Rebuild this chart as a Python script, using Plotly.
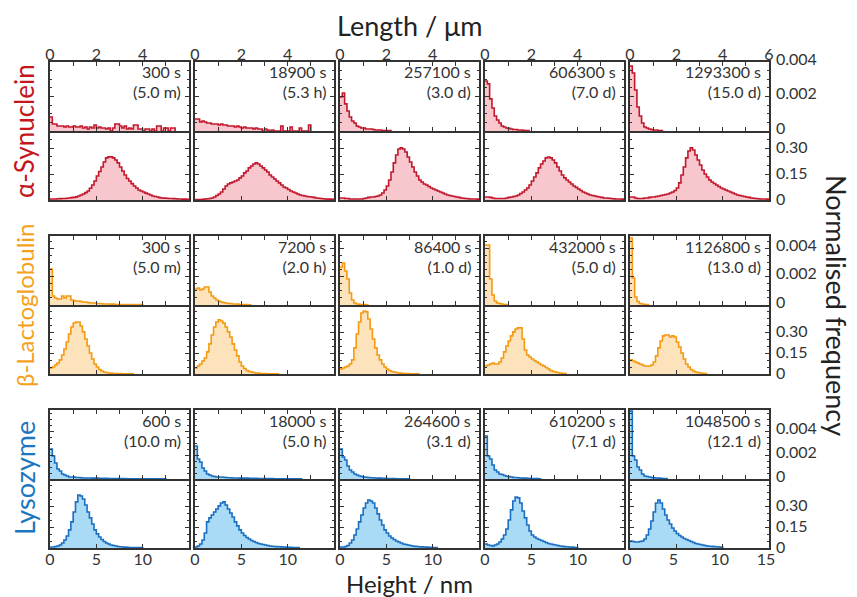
import numpy as np
import plotly.graph_objects as go

# ---------------- data ----------------
LEN_BIN = 0.1    # μm, length-histogram bin width
HGT_BIN = 0.25   # nm, height-histogram bin width
LEN_UNIT = 1e-5  # length-histogram values are given in units of 1e-5
HGT_UNIT = 1e-3  # height-histogram values are given in units of 1e-3

proteins = ["α-Synuclein", "β-Lactoglobulin", "Lysozyme"]

times_s = [
    ["300 s", "18900 s", "257100 s", "606300 s", "1293300 s"],
    ["300 s", "7200 s", "86400 s", "432000 s", "1126800 s"],
    ["600 s", "18000 s", "264600 s", "610200 s", "1048500 s"],
]
times_h = [
    ["(5.0 m)", "(5.3 h)", "(3.0 d)", "(7.0 d)", "(15.0 d)"],
    ["(5.0 m)", "(2.0 h)", "(1.0 d)", "(5.0 d)", "(13.0 d)"],
    ["(10.0 m)", "(5.0 h)", "(3.1 d)", "(7.1 d)", "(12.1 d)"],
]

asyn_len = [
    [81,41,41,29,29,29,23,29,23,23, 29,23,23,29,17,23,12,23,17,35, 17,23,17,17,12,17,0,17,41,41,
     29,17,29,12,17,12,35,35,12,12, 0,12,12,0,12,0,29,29,0,17, 17,0,17,17],
    [70,70,52,58,52,46,46,41,41,41, 35,41,35,35,29,29,29,23,29,23, 17,23,17,17,17,12,17,12,12,0,
     12,6,0,6,0,0,0,29,0,0, 0,23,0,0,0,17,0,0,0,35],
    [197,220,157,116,81,58,46,29,23,17, 17,12,12,12,9,6,6,6,3,3,3,2],
    [290,273,186,133,87,64,46,29,23,17, 15,12,9,9,6,6,4,3,2],
    [377,336,238,139,87,46,23,17,12,9,6,6,3,3],
]
asyn_hgt = [
    [6,6,6,7,8,9,9,10,12,14, 15,18,23,29,35,43,52,68,87,110, 139,165,191,220,244,250,250,244,232,215,
     191,168,145,125,110,95,81,70,58,52, 46,40,35,29,23,20,17,14,12,11, 10,9,9,8,7,6,6,5,5,4],
    [3,3,3,4,6,7,9,12,17,26, 35,46,64,81,93,99,104,110,116,128, 139,157,168,186,197,209,215,209,197,186,
     174,162,145,133,122,110,99,87,75,70, 61,52,46,41,35,29,26,23,20,19, 17,15,12,10,9,7,6,5,5,4],
    [12,12,9,9,6,6,6,6,6,6, 9,12,15,17,17,20,23,29,41,58, 81,116,162,215,261,296,302,296,278,249,
     220,191,162,139,116,104,93,87,78,70, 64,58,52,46,41,35,29,26,23,20, 17,15,12,10,9,7,6,6,6,5],
    [17,17,15,12,9,9,9,9,9,12, 15,17,20,23,29,38,46,58,70,87, 110,133,157,186,209,226,244,249,244,232,
     215,191,168,145,128,116,104,93,81,73, 64,55,46,41,35,29,26,23,20,17, 15,12,12,10,9,7,6,6,6,5],
    [17,17,12,9,9,9,12,12,15,17, 17,20,23,26,29,32,35,41,46,55, 70,99,145,191,244,284,302,290,261,232,
     203,174,151,133,116,104,96,87,78,70, 64,58,52,46,41,35,29,26,23,20, 17,15,12,10,9,7,6,6,6,5],
]

blg_len = [
    [256,64,50,43,43,64,50,64,64,36, 32,28,28,25,21,21,18,14,14,14, 11,11,9,7,7,7,6,6,4,4,
     4,0,4,4,0,4,3,0,3,3],
    [114,121,107,114,128,128,92,64,50,36, 28,21,18,14,11,11,7,7,6,4, 4,4,3,2],
    [270,298,241,185,85,36,14,7,5,4,3,2],
    [426,426,185,71,28,14,11,7,4,3],
    [476,192,57,25,11,7,4,3],
]
blg_hgt = [
    [43,51,65,80,102,138,181,232,290,341, 370,377,377,348,305,254,203,152,109,73,
     51,33,22,15,11,7,6,4,4,3, 3,2,2,2,2,1],
    [43,58,73,94,116,160,218,283,341,377, 392,384,370,341,305,268,218,174,131,87,
     58,40,25,18,15,11,7,6,4,3, 3,2,2,2,1,1],
    [36,43,51,58,73,102,189,290,377,442, 457,450,399,326,254,189,138,102,73,51,
     36,25,18,15,11,7,6,4,4,3, 2,2,1,1],
    [58,65,73,80,73,73,87,116,160,203, 239,276,305,326,334,334,254,174,138,123,
     109,98,87,76,65,58,47,36,25,18, 15,11,7,5,4],
    [102,94,87,80,73,65,58,58,58,65, 87,131,189,239,276,283,283,268,276,268,
     232,196,152,109,73,51,33,22,15,11, 7,5,4],
]

lys_len = [
    [250,192,133,83,67,42,33,25,17,17, 17,12,12,10,8,8,8,8,7,7, 7,6,6,5,5,4,4,4,4,3,
     3,3,3,2,2,2,2,2,2,2, 2,2,2,2,2,2,2,2,2,2],
    [275,167,142,92,67,42,33,25,21,17, 17,17,15,12,11,10,8,8,8,7, 7,7,7,6,6,5,5,4,4,4,
     3,3,3,3,2,2,2,2,2,2, 2,2,2,2,2,2],
    [250,183,158,108,75,58,42,33,25,21, 17,15,12,11,10,8,7,7,6,5, 4,4,3,3,2,2,2,2,2,2],
    [358,192,167,117,75,58,42,37,29,23, 21,17,13,12,10,8,7,7,6,5, 4,4,3,2],
    [566,192,158,100,75,42,25,21,17,12,10,8,7,5,4,3],
]
lys_hgt = [
    [7,7,11,15,22,36,58,87,131,189, 261,334,384,377,355,312,261,218,174,131,
     102,80,62,47,36,29,22,18,15,11, 9,7,6,5,4,4,4,3,3,3],
    [7,15,29,58,109,189,218,239,261,283, 305,326,334,312,283,254,225,189,160,131,
     109,91,76,65,54,47,40,33,29,25, 22,18,15,13,11,10,9,8,7,6, 5,5,4,4,3],
    [7,7,11,18,36,58,94,138,189,239, 290,326,348,341,326,290,247,203,167,131,
     109,87,73,62,51,43,36,29,25,22, 18,15,12,11,9,8,7,6,5,5,4,4],
    [29,22,18,15,22,29,44,65,94,138, 203,276,341,370,363,326,268,218,167,123,
     94,80,69,62,54,47,40,33,29,25, 22,18,15,12,10,9,7,6,5,4],
    [51,47,44,44,47,51,65,94,138,196, 261,326,348,326,283,239,203,174,145,123,
     105,91,80,69,62,54,47,40,33,29, 25,22,18,15,13,12,10,9,7,6],
]

length_hists = [asyn_len, blg_len, lys_len]
height_hists = [asyn_hgt, blg_hgt, lys_hgt]

len_range = [0, 6]
hgt_range = [0, 15]
len_yrange = [[0, 0.0040], [0, 0.0049], [0, 0.00575]]
hgt_yrange = [[0, 0.40], [0, 0.50], [0, 0.50]]

len_ticks = [0, 1, 2, 3, 4, 5, 6]
hgt_ticks = [0, 5, 10, 15]
len_yticks = [0, 0.002, 0.004]
len_yticktext = ["0", "0.002", "0.004"]
hgt_yticks = [0, 0.15, 0.30]
hgt_yticktext = ["0", "0.15", "0.30"]

# ---------------- style ----------------
line_colors = ["#c1182c", "#f39a12", "#1b6fc0"]
fill_colors = ["#f8c6cd", "#fde3bb", "#aadbf6"]
label_colors = ["#c4161c", "#f5a11c", "#1c76c0"]
label_sizes = [26, 24, 27]
FONT = "Lato, 'Noto Sans', sans-serif"
INK = "#333333"

PAGE_OFF = 8                 # default page margin around the plot div
W, H = 857 - PAGE_OFF, 597 - PAGE_OFF
COL_LEFT = [50, 195, 340, 485, 630]   # page pixels
COL_W = 139
BLOCK_TOP = [62, 236, 410]
SUB_H = 69


def fx(p):
    return (p - PAGE_OFF) / W


def fy(p):
    return 1 - (p - PAGE_OFF) / H


fig = go.Figure()
layout = {}
annotations = []

for p in range(3):
    for sub in range(2):
        r = p * 2 + sub
        for c in range(5):
            k = r * 5 + c + 1
            xname = "x" if k == 1 else f"x{k}"
            yname = "y" if k == 1 else f"y{k}"
            if sub == 0:
                vals = length_hists[p][c]
                bw, unit = LEN_BIN, LEN_UNIT
            else:
                vals = height_hists[p][c]
                bw, unit = HGT_BIN, HGT_UNIT
            yv = [v * unit for v in vals] + [0.0]
            xv = list(np.arange(len(vals) + 1) * bw)
            fig.add_trace(go.Scatter(
                x=xv, y=yv, mode="lines",
                line=dict(color=line_colors[p], width=1.6, shape="hv"),
                fill="tozeroy", fillcolor=fill_colors[p],
                xaxis=xname, yaxis=yname, showlegend=False, hoverinfo="skip"))

            top = BLOCK_TOP[p] + sub * SUB_H
            bot = top + SUB_H
            left = COL_LEFT[c]
            right = left + COL_W

            common = dict(showline=True, linecolor=INK, linewidth=1.5,
                          ticks="inside", tickcolor=INK, tickwidth=1, showgrid=False,
                          zeroline=False, fixedrange=True, automargin=False,
                          tickfont=dict(family=FONT, size=16, color=INK))
            if sub == 0:
                xt = dict(range=len_range, tickvals=len_ticks,
                          ticktext=["0", "", "2", "", "4", "", "6" if c == 4 else ""],
                          ticklen=4, showticklabels=(p == 0), side="top", mirror="ticks",
                          ticklabelstandoff=-6)
                yr = len_yrange[p]
                yt = dict(tickvals=len_yticks, ticktext=len_yticktext, ticklabelshift=-3,
                          minor=dict(ticks="inside", ticklen=2.5, dtick=0.0005,
                                     tickcolor=INK, showgrid=False))
            else:
                xt = dict(range=hgt_range, tickvals=hgt_ticks,
                          ticktext=["0", "5", "10", "15" if c == 4 else ""],
                          ticklen=4, showticklabels=(p == 2), side="bottom", mirror=False,
                          ticklabelstandoff=-4, ticklabelshift=(-3 if c == 4 else 0))
                yr = hgt_yrange[p]
                yt = dict(tickvals=hgt_yticks, ticktext=hgt_yticktext, ticklabelshift=-1,
                          minor=dict(ticks="inside", ticklen=2.5, dtick=0.05,
                                     tickcolor=INK, showgrid=False))

            layout["xaxis" if k == 1 else f"xaxis{k}"] = dict(
                domain=[fx(left), fx(right)], anchor=yname, **xt, **common)
            layout["yaxis" if k == 1 else f"yaxis{k}"] = dict(
                domain=[fy(bot), fy(top)], anchor=xname, range=yr, ticklen=4,
                side="right", mirror="ticks", showticklabels=(c == 4),
                ticklabelstandoff=2, **yt, **common)

            if sub == 0:
                txt = ('<span style="font-size:16px">' + times_s[p][c] + '</span><br>'
                       '<span style="font-size:16px">' + times_h[p][c] + '</span>')
                annotations.append(dict(
                    x=fx(right - 6), y=fy(top + 20), xref="paper", yref="paper",
                    text=txt, showarrow=False,
                    xanchor="right", yanchor="middle", align="right",
                    font=dict(family=FONT, size=15, color=INK)))

row_label_y = [131, 305, 478]
for p in range(3):
    annotations.append(dict(
        x=fx(24), y=fy(row_label_y[p]), xref="paper", yref="paper",
        text=proteins[p], showarrow=False, textangle=-90, xanchor="center", yanchor="middle",
        font=dict(family=FONT, size=label_sizes[p], color=label_colors[p])))

annotations.append(dict(x=fx(409), y=fy(25), xref="paper", yref="paper",
                        text="Length / μm", showarrow=False, xanchor="center", yanchor="middle",
                        font=dict(family=FONT, size=27, color="#222222")))
annotations.append(dict(x=fx(409), y=fy(583), xref="paper", yref="paper",
                        text="Height / nm", showarrow=False, xanchor="center", yanchor="middle",
                        font=dict(family=FONT, size=24, color="#222222")))
annotations.append(dict(x=fx(837), y=fy(305), xref="paper", yref="paper",
                        text="Normalised frequency", showarrow=False, textangle=90,
                        xanchor="center", yanchor="middle",
                        font=dict(family=FONT, size=27, color="#222222")))

fig.update_layout(
    width=W, height=H, autosize=False,
    margin=dict(l=0, r=0, t=0, b=0),
    paper_bgcolor="white", plot_bgcolor="white",
    annotations=annotations, **layout)

fig.write_html("out.html")
